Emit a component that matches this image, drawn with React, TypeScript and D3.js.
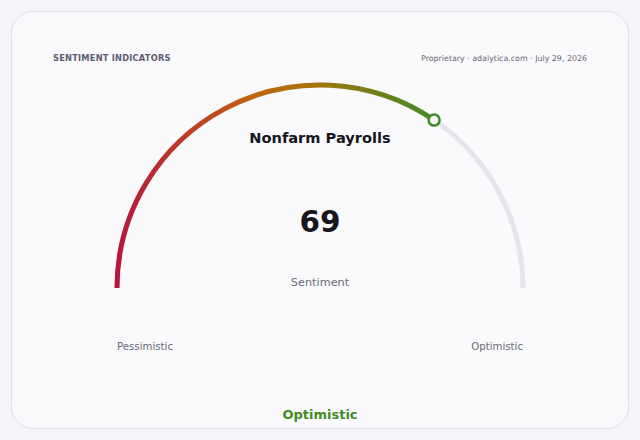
import React from "react";
import * as d3 from "d3";

const title = "Nonfarm Payrolls";
const value = 69;
const domain = [0, 100];
const endLabels = ["Pessimistic", "Optimistic"];
const verdict = "Optimistic";
const header = "SENTIMENT INDICATORS";
const source = "Proprietary · adalytica.com · July 29, 2026";
const gradientColors = ["#b8153f", "#c0620e", "#a8740c", "#3f8c25"];
const gradientStops = [0, 0.42, 0.62, 1];

export default function App() {
  const W = 640, H = 440;
  const cx = 320, cy = 288, r = 203;
  const angle = d3.scaleLinear().domain(domain).range([-Math.PI / 2, Math.PI / 2]);
  const arcGen = d3.arc<any>();
  const trackPath = arcGen({ innerRadius: r, outerRadius: r, startAngle: angle(domain[0]), endAngle: angle(domain[1]) }) || "";
  const valPath = arcGen({ innerRadius: r, outerRadius: r, startAngle: angle(domain[0]), endAngle: angle(value) }) || "";
  const a = angle(value);
  const mx = r * Math.sin(a);
  const my = -r * Math.cos(a);
  return (
    <svg width={W} height={H} style={{ position: "absolute", left: 0, top: 0, fontFamily: "DejaVu Sans, sans-serif" }}>
      <defs>
        <linearGradient id="g2" gradientUnits="userSpaceOnUse" x1={-r} y1={0} x2={mx} y2={0}>
          {gradientColors.map((c, i) => (
            <stop key={i} offset={gradientStops[i]} stopColor={c} />
          ))}
        </linearGradient>
      </defs>
      <rect x={0} y={0} width={W} height={H} fill="#f6f6fa" />
      <rect x={11.5} y={11.5} width={617} height={417} rx={22} fill="#fafafd" stroke="#e0e0ea" strokeWidth={1} />
      <text x={53} y={61} fontSize={8.3} fontWeight="bold" fill="#5d5d72" letterSpacing={0.2}>{header}</text>
      <text x={587} y={61} fontSize={7.9} fill="#666670" textAnchor="end">{source}</text>
      <g transform={`translate(${cx},${cy})`}>
        <path d={trackPath} fill="none" stroke="#e5e5ea" strokeWidth={5} strokeLinecap="round" />
        <path d={valPath} fill="none" stroke="url(#g2)" strokeWidth={5} strokeLinecap="round" />
        <circle cx={mx} cy={my} r={5.5} fill="#fafafd" stroke="#3f8c25" strokeWidth={2.5} />
      </g>
      <text x={cx} y={143} fontSize={14.6} fontWeight="bold" fill="#16161c" textAnchor="middle">{title}</text>
      <text x={cx} y={232} fontSize={29.5} fontWeight="bold" fill="#16161c" textAnchor="middle">{value}</text>
      <text x={cx} y={286} fontSize={11.3} fill="#6b6b75" textAnchor="middle">Sentiment</text>
      <text x={cx - r} y={350} fontSize={10.2} fill="#6b6b75" textAnchor="start">{endLabels[0]}</text>
      <text x={cx + r} y={350} fontSize={10.2} fill="#6b6b75" textAnchor="end">{endLabels[1]}</text>
      <text x={cx} y={419} fontSize={13} fontWeight="bold" fill="#3f8c25" textAnchor="middle">{verdict}</text>
    </svg>
  );
}
